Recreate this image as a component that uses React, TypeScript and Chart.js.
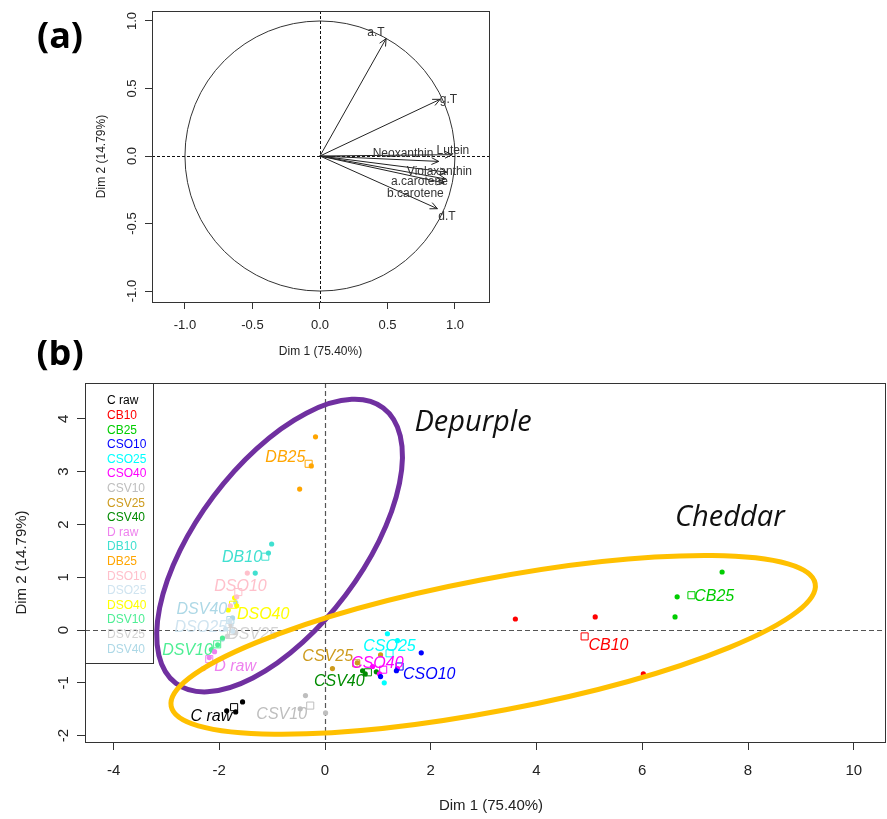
import React, { useEffect, useRef } from 'react';
import { Chart, registerables } from 'chart.js';
Chart.register(...registerables);

const SANS = '"Liberation Sans", Arial, Helvetica, sans-serif';
const CALLOUT = '"Open Sans", "Liberation Sans", sans-serif';

// ---------- Panel (a): correlation circle ----------
const variableNames = ['a.T', 'g.T', 'Lutein', 'Neoxanthin', 'Violaxanthin', 'a.carotene', 'b.carotene', 'd.T'];
const variableDim1 = [0.49, 0.89, 0.98, 0.88, 0.94, 0.93, 0.92, 0.87];
const variableDim2 = [0.87, 0.42, 0.01, -0.04, -0.12, -0.17, -0.2, -0.39];
// where each variable name is written (annotation anchor, Dim1/Dim2 units)
const variableLabelDim1 = [0.415, 0.952, 0.985, 0.615, 0.885, 0.737, 0.707, 0.941];
const variableLabelDim2 = [0.911, 0.415, 0.037, 0.015, -0.119, -0.193, -0.281, -0.452];
const circleTicks = [-1, -0.5, 0, 0.5, 1];

// ---------- Panel (b): individuals ----------
const groupNames = ['C raw', 'CB10', 'CB25', 'CSO10', 'CSO25', 'CSO40', 'CSV10', 'CSV25', 'CSV40',
  'D raw', 'DB10', 'DB25', 'DSO10', 'DSO25', 'DSO40', 'DSV10', 'DSV25', 'DSV40'];
const groupColors = ['#000000', '#FF0000', '#00CD00', '#0000FF', '#00FFFF', '#FF00FF', '#BEBEBE', '#CD9B1D', '#008B00',
  '#EE82EE', '#40E0D0', '#FFA500', '#FFC0CB', '#D0E4F0', '#FFFF00', '#4EEE94', '#D3D3D3', '#ADD8E6'];
const replicateDim1 = [
  [-1.56, -1.86, -1.69], [3.6, 5.11, 6.02], [7.51, 6.66, 6.62], [1.82, 1.35, 1.05], [1.18, 1.37, 1.12],
  [1.03, 1.37, 0.9], [-0.37, -0.47, 0.01], [0.14, 1.05, 0.61], [0.71, 0.97, 0.76],
  [-2.3, -2.19, -2.09], [-1.01, -1.07, -1.32], [-0.18, -0.26, -0.48], [-1.47, -1.67, -1.79], [-1.8, -1.88, -1.75],
  [-1.71, -1.83, -1.67], [-2.03, -1.94, -2.15], [-1.78, -1.7, -1.85], [-1.69, -1.75, -1.94],
];
const replicateDim2 = [
  [-1.36, -1.53, -1.55], [0.21, 0.25, -0.83], [1.1, 0.63, 0.25], [-0.43, -0.77, -0.88], [-0.07, -0.2, -1.0],
  [-0.83, -0.73, -0.69], [-1.24, -1.49, -1.57], [-0.73, -0.47, -0.62], [-0.77, -0.79, -0.83],
  [-0.73, -0.52, -0.41], [1.63, 1.46, 1.08], [3.66, 3.11, 2.67], [1.08, 0.63, 0.46], [0.18, 0.02, -0.02],
  [0.61, 0.38, 0.46], [-0.28, -0.15, -0.37], [0.1, -0.05, -0.12], [0.52, 0.23, -0.17],
];
const meanDim1 = [-1.72, 4.91, 6.93, 1.41, 1.22, 1.1, -0.28, 0.59, 0.81, -2.19, -1.13, -0.31, -1.64, -1.81, -1.74, -2.04, -1.78, -1.79];
const meanDim2 = [-1.46, -0.12, 0.66, -0.69, -0.44, -0.75, -1.43, -0.63, -0.8, -0.55, 1.39, 3.15, 0.72, 0.06, 0.48, -0.27, -0.02, 0.19];
// where each group name is written (annotation anchor)
const labelDim1 = [-2.15, 5.36, 7.36, 1.97, 1.22, 0.99, -0.82, 0.05, 0.27, -1.7, -1.57, -0.75, -1.6, -2.35, -1.17, -2.6, -1.37, -2.33];
const labelDim2 = [-1.64, -0.3, 0.63, -0.85, -0.32, -0.64, -1.6, -0.5, -0.98, -0.69, 1.37, 3.26, 0.82, 0.04, 0.29, -0.39, -0.09, 0.38];
const dim1Ticks = [-4, -2, 0, 2, 4, 6, 8, 10];
const dim2Ticks = [-2, -1, 0, 1, 2, 3, 4];

// hand-drawn cluster ellipses
const clusterNames = ['Depurple', 'Cheddar'];
const clusterColors = ['#7030A0', '#FFC000'];
const clusterCenterDim1 = [-0.86, 3.18];
const clusterCenterDim2 = [1.6, -0.28];
const clusterSemiMajor = [3.26, 6.2];
const clusterSemiMinor = [1.56, 1.25];
const clusterAngleDeg = [53, 10.8];
const clusterTextDim1 = [1.69, 6.62];
const clusterTextDim2 = [3.77, 1.98];

function axisCommon(ticks: number[], tickLen: number) {
  return {
    type: 'linear' as const,
    afterBuildTicks: (s: any) => { s.ticks = ticks.map((v) => ({ value: v })); },
    ticks: { display: false },
    grid: { display: true, drawOnChartArea: false, drawTicks: true, tickLength: tickLen, color: '#333', lineWidth: 1 },
    border: { display: false },
  };
}

const panelAPlugin = {
  id: 'panelA',
  beforeDatasetsDraw(chart: any) {
    const { ctx, chartArea: ca, scales } = chart;
    const x = scales.x, y = scales.y;
    const x0 = x.getPixelForValue(0), y0 = y.getPixelForValue(0);
    ctx.save();
    ctx.strokeStyle = '#333';
    ctx.lineWidth = 1;
    ctx.beginPath();
    ctx.ellipse(x0, y0, x.getPixelForValue(1) - x0, y0 - y.getPixelForValue(1), 0, 0, Math.PI * 2);
    ctx.stroke();
    ctx.strokeStyle = '#111';
    ctx.setLineDash([3, 2]);
    ctx.beginPath();
    ctx.moveTo(ca.left, Math.round(y0) + 0.5); ctx.lineTo(ca.right, Math.round(y0) + 0.5);
    ctx.moveTo(Math.round(x0) + 0.5, ca.top); ctx.lineTo(Math.round(x0) + 0.5, ca.bottom);
    ctx.stroke();
    ctx.restore();
  },
  afterDatasetsDraw(chart: any) {
    const { ctx, chartArea: ca, scales } = chart;
    const x = scales.x, y = scales.y;
    const x0 = x.getPixelForValue(0), y0 = y.getPixelForValue(0);
    ctx.save();
    ctx.strokeStyle = '#222';
    ctx.lineWidth = 1;
    variableNames.forEach((_, i) => {
      const tx = x.getPixelForValue(variableDim1[i]);
      const ty = y.getPixelForValue(variableDim2[i]);
      const ang = Math.atan2(ty - y0, tx - x0);
      const L = 8, phi = (25 * Math.PI) / 180;
      ctx.beginPath();
      ctx.moveTo(tx - L * Math.cos(ang - phi), ty - L * Math.sin(ang - phi));
      ctx.lineTo(tx, ty);
      ctx.lineTo(tx - L * Math.cos(ang + phi), ty - L * Math.sin(ang + phi));
      ctx.stroke();
    });
    ctx.fillStyle = '#333';
    ctx.font = `12px ${SANS}`;
    ctx.textAlign = 'center';
    ctx.textBaseline = 'middle';
    variableNames.forEach((n, i) => {
      ctx.fillText(n, x.getPixelForValue(variableLabelDim1[i]), y.getPixelForValue(variableLabelDim2[i]));
    });
    ctx.strokeStyle = '#333';
    ctx.strokeRect(ca.left + 0.5, ca.top + 0.5, ca.right - ca.left, ca.bottom - ca.top);
    ctx.fillStyle = '#222';
    ctx.font = `13px ${SANS}`;
    circleTicks.forEach((v) => {
      ctx.fillText(v.toFixed(1), x.getPixelForValue(v), ca.bottom + 23);
    });
    circleTicks.forEach((v) => {
      ctx.save();
      ctx.translate(ca.left - 20, y.getPixelForValue(v));
      ctx.rotate(-Math.PI / 2);
      ctx.fillText(v.toFixed(1), 0, 0);
      ctx.restore();
    });
    ctx.font = `12px ${SANS}`;
    ctx.fillText('Dim 1 (75.40%)', (ca.left + ca.right) / 2, ca.bottom + 50);
    ctx.save();
    ctx.translate(ca.left - 50, (ca.top + ca.bottom) / 2);
    ctx.rotate(-Math.PI / 2);
    ctx.fillText('Dim 2 (14.79%)', 0, 0);
    ctx.restore();
    ctx.fillStyle = '#000';
    ctx.font = `bold 36px ${CALLOUT}`;
    ctx.fillText('(a)', 60, 38);
    ctx.restore();
  },
};

const panelBPlugin = {
  id: 'panelB',
  beforeDatasetsDraw(chart: any) {
    const { ctx, chartArea: ca, scales } = chart;
    const x = scales.x, y = scales.y;
    const x0 = Math.round(x.getPixelForValue(0)) + 0.5, y0 = Math.round(y.getPixelForValue(0)) + 0.5;
    ctx.save();
    ctx.strokeStyle = '#555';
    ctx.lineWidth = 1.2;
    ctx.setLineDash([5, 3]);
    ctx.beginPath();
    ctx.moveTo(ca.left, y0); ctx.lineTo(ca.right, y0);
    ctx.moveTo(x0, ca.top); ctx.lineTo(x0, ca.bottom);
    ctx.stroke();
    ctx.setLineDash([]);
    ctx.strokeStyle = '#333';
    ctx.lineWidth = 1;
    ctx.strokeRect(ca.left + 0.5, ca.top + 0.5, 68, 280);
    ctx.font = `12px ${SANS}`;
    ctx.textAlign = 'left';
    ctx.textBaseline = 'middle';
    groupNames.forEach((n, i) => {
      ctx.fillStyle = groupColors[i];
      ctx.fillText(n, ca.left + 22, ca.top + 18 + i * 14.6);
    });
    ctx.restore();
  },
  afterDatasetsDraw(chart: any) {
    const { ctx, chartArea: ca, scales } = chart;
    const x = scales.x, y = scales.y;
    const pxPerUnit = x.getPixelForValue(1) - x.getPixelForValue(0);
    ctx.save();
    ctx.font = `italic 16px ${SANS}`;
    ctx.textAlign = 'center';
    ctx.textBaseline = 'middle';
    groupNames.forEach((n, i) => {
      ctx.fillStyle = groupColors[i];
      ctx.fillText(n, x.getPixelForValue(labelDim1[i]), y.getPixelForValue(labelDim2[i]));
    });
    ctx.strokeStyle = '#333';
    ctx.lineWidth = 1;
    ctx.strokeRect(ca.left + 0.5, ca.top + 0.5, ca.right - ca.left - 1, ca.bottom - ca.top);
    clusterNames.forEach((n, i) => {
      ctx.strokeStyle = clusterColors[i];
      ctx.lineWidth = 5;
      ctx.beginPath();
      ctx.ellipse(
        x.getPixelForValue(clusterCenterDim1[i]), y.getPixelForValue(clusterCenterDim2[i]),
        clusterSemiMajor[i] * pxPerUnit, clusterSemiMinor[i] * pxPerUnit,
        (-clusterAngleDeg[i] * Math.PI) / 180, 0, Math.PI * 2);
      ctx.stroke();
      ctx.fillStyle = '#111';
      ctx.font = `italic 29px ${CALLOUT}`;
      ctx.textAlign = 'left';
      ctx.textBaseline = 'alphabetic';
      ctx.fillText(n, x.getPixelForValue(clusterTextDim1[i]), y.getPixelForValue(clusterTextDim2[i]));
    });
    ctx.fillStyle = '#222';
    ctx.font = `15px ${SANS}`;
    ctx.textAlign = 'center';
    ctx.textBaseline = 'middle';
    dim1Ticks.forEach((v) => ctx.fillText(String(v), x.getPixelForValue(v), ca.bottom + 29));
    dim2Ticks.forEach((v) => {
      ctx.save();
      ctx.translate(ca.left - 21, y.getPixelForValue(v));
      ctx.rotate(-Math.PI / 2);
      ctx.fillText(String(v), 0, 0);
      ctx.restore();
    });
    ctx.fillText('Dim 1 (75.40%)', 491, ca.bottom + 64);
    ctx.save();
    ctx.translate(ca.left - 63, (ca.top + ca.bottom) / 2);
    ctx.rotate(-Math.PI / 2);
    ctx.fillText('Dim 2 (14.79%)', 0, 0);
    ctx.restore();
    ctx.fillStyle = '#000';
    ctx.font = `bold 36px ${CALLOUT}`;
    ctx.fillText('(b)', 60, 15);
    ctx.restore();
  },
};

export default function App() {
  const refA = useRef<HTMLCanvasElement>(null);
  const refB = useRef<HTMLCanvasElement>(null);

  useEffect(() => {
    const ax = axisCommon(circleTicks, 7);
    const ay = axisCommon(circleTicks, 7);
    const chartA = new Chart(refA.current as HTMLCanvasElement, {
      type: 'scatter',
      data: {
        datasets: variableNames.map((n, i) => ({
          label: n,
          data: [{ x: 0, y: 0 }, { x: variableDim1[i], y: variableDim2[i] }],
          showLine: true,
          borderColor: '#222',
          borderWidth: 1,
          pointRadius: 0,
          fill: false,
        })),
      },
      options: {
        animation: false,
        responsive: false,
        events: [],
        layout: { autoPadding: false, padding: { left: 0, top: 11, right: 398, bottom: 0 } },
        plugins: { legend: { display: false }, tooltip: { enabled: false } },
        scales: {
          x: { ...ax, position: 'bottom', min: -1.244, max: 1.252, afterFit: (s: any) => { s.height = 63; } },
          y: { ...ay, position: 'left', min: -1.081, max: 1.074, afterFit: (s: any) => { s.width = 152; } },
        } as any,
      },
      plugins: [panelAPlugin],
    } as any);

    const bx = axisCommon(dim1Ticks, 8);
    const by = axisCommon(dim2Ticks, 8);
    const datasetsB: any[] = [];
    groupNames.forEach((n, i) => {
      datasetsB.push({
        label: n,
        data: replicateDim1[i].map((v, k) => ({ x: v, y: replicateDim2[i][k] })),
        pointRadius: 2.6,
        pointStyle: 'circle',
        backgroundColor: groupColors[i],
        borderColor: groupColors[i],
        borderWidth: 0,
      });
      datasetsB.push({
        label: n + ' mean',
        data: [{ x: meanDim1[i], y: meanDim2[i] }],
        pointRadius: 5,
        pointStyle: 'rect',
        backgroundColor: 'rgba(0,0,0,0)',
        borderColor: groupColors[i],
        borderWidth: 1,
      });
    });
    const chartB = new Chart(refB.current as HTMLCanvasElement, {
      type: 'scatter',
      data: { datasets: datasetsB },
      options: {
        animation: false,
        responsive: false,
        events: [],
        layout: { autoPadding: false, padding: { left: 0, top: 43, right: 1, bottom: 0 } },
        plugins: { legend: { display: false }, tooltip: { enabled: false } },
        scales: {
          x: { ...bx, position: 'bottom', min: -4.54, max: 10.61, afterFit: (s: any) => { s.height = 77; } },
          y: { ...by, position: 'left', min: -2.12, max: 4.68, afterFit: (s: any) => { s.width = 85; } },
        } as any,
      },
      plugins: [panelBPlugin],
    } as any);

    return () => {
      chartA.destroy();
      chartB.destroy();
    };
  }, []);

  return (
    <div style={{ position: 'absolute', left: 0, top: 0, width: 887, height: 819, background: '#fff', overflow: 'hidden' }}>
      <canvas ref={refA} width={887} height={365} style={{ position: 'absolute', left: 0, top: 0 }} />
      <canvas ref={refB} width={887} height={479} style={{ position: 'absolute', left: 0, top: 340 }} />
    </div>
  );
}
